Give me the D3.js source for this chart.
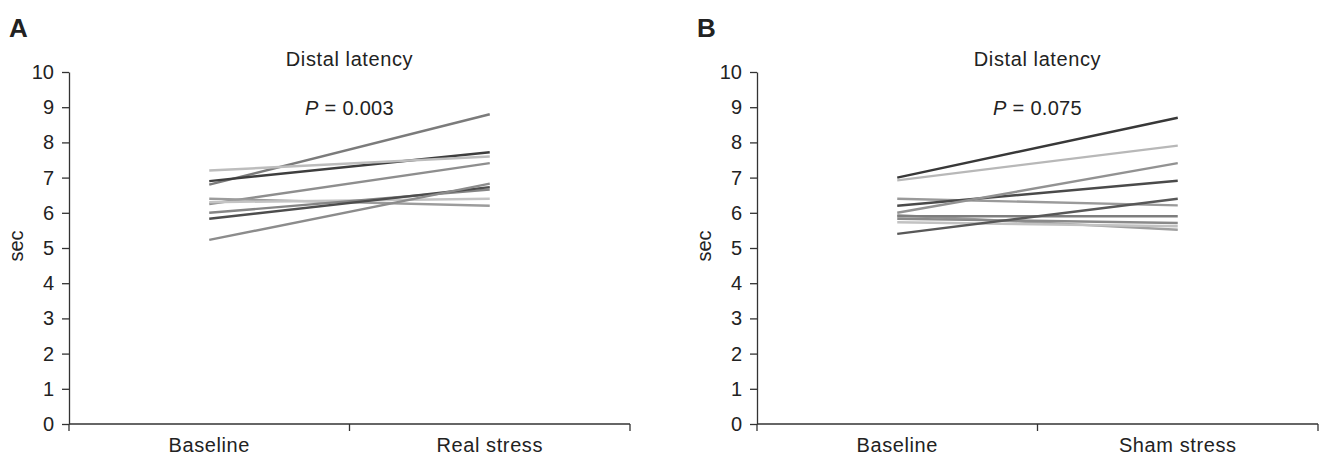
<!DOCTYPE html>
<html>
<head>
<meta charset="utf-8">
<script src="https://cdn.jsdelivr.net/npm/d3@7"></script>
<style>
  body { margin: 0; background: #fff; }
  svg { display: block; }
</style>
</head>
<body>
<div id="chart"></div>
<script>
const yTicks = [0, 1, 2, 3, 4, 5, 6, 7, 8, 9, 10];

const catsA = ['Baseline', 'Real stress'];
const catsB = ['Baseline', 'Sham stress'];

// each subject: [baseline, stress]
const realBase = [6.8, 6.9, 7.2, 6.25, 6.4, 6.3, 6.0, 5.83, 5.23];
const realStress = [8.8, 7.72, 7.6, 7.41, 6.2, 6.4, 6.66, 6.73, 6.83];
const realColors = ['#7b7b7b', '#3e3e3e', '#bdbdbd', '#8e8e8e', '#9c9c9c', '#c4c4c4', '#858585', '#4d4d4d', '#8c8c8c'];

const shamBase = [7.0, 6.92, 6.4, 6.2, 6.0, 5.93, 5.83, 5.73, 5.9, 5.4];
const shamStress = [8.7, 7.91, 6.21, 6.91, 7.41, 5.52, 5.71, 5.62, 5.9, 6.4];
const shamColors = ['#383838', '#b8b8b8', '#9a9a9a', '#4a4a4a', '#929292', '#a0a0a0', '#8a8a8a', '#c2c2c2', '#7e7e7e', '#585858'];

const titles = ['Distal latency', 'Distal latency'];
const pValues = ['0.003', '0.075'];
const letters = ['A', 'B'];

const W = 1320, H = 456;
const font = 'Liberation Sans, Arial, sans-serif';

const svg = d3.select('#chart').append('svg')
  .attr('width', W)
  .attr('height', H);

const yScale = d3.scaleLinear().domain([0, 10]).range([424, 72]);

function drawPanel(x0, x1, cats, base, stress, colors, title, p, letter) {
  let xScale = d3.scaleBand().domain(cats).range([x0, x1]);
  let g = svg.append('g');

  g.append('text')
    .attr('x', x0 - 60)
    .attr('y', 37)
    .attr('font-family', font)
    .attr('font-weight', 'bold')
    .attr('font-size', 26)
    .attr('fill', '#222')
    .text(letter);

  g.append('text')
    .attr('x', (x0 + x1) / 2)
    .attr('y', 66)
    .attr('text-anchor', 'middle')
    .attr('font-family', font)
    .attr('font-size', 20)
    .attr('letter-spacing', 0.6)
    .attr('fill', '#222')
    .text(title);

  let pt = g.append('text')
    .attr('x', (x0 + x1) / 2)
    .attr('y', 115)
    .attr('text-anchor', 'middle')
    .attr('font-family', font)
    .attr('font-size', 20)
    .attr('letter-spacing', 0.3)
    .attr('fill', '#222');
  pt.append('tspan').attr('font-style', 'italic').text('P');
  pt.append('tspan').text(' = ' + p);

  g.append('text')
    .attr('transform', 'translate(' + (x0 - 46) + ',' + 246 + ') rotate(-90)')
    .attr('text-anchor', 'middle')
    .attr('font-family', font)
    .attr('font-size', 20)
    .attr('fill', '#222')
    .text('sec');

  // subject lines
  base.forEach((b, i) => {
    let pts = [[cats[0], b], [cats[1], stress[i]]];
    g.append('path')
      .datum(pts)
      .attr('fill', 'none')
      .attr('stroke', colors[i])
      .attr('stroke-width', 2.4)
      .attr('d', d3.line()
        .x((d) => xScale(d[0]) + xScale.bandwidth() / 2)
        .y((d) => yScale(d[1])));
  });

  // y axis
  let yAxis = d3.axisLeft(yScale).tickValues(yTicks).tickSize(7).tickSizeOuter(0).tickPadding(8);
  let ya = g.append('g')
    .attr('transform', 'translate(' + x0 + ',0)')
    .call(yAxis);
  ya.selectAll('text').attr('font-family', font).attr('font-size', 20).attr('fill', '#222');
  ya.selectAll('line,path').attr('stroke', '#333').attr('stroke-width', 1.3);

  // x axis: ticks at band edges, labels at centres
  let xa = g.append('g').attr('transform', 'translate(0,424)');
  xa.append('line')
    .attr('x1', x0).attr('x2', x1)
    .attr('stroke', '#333').attr('stroke-width', 1.3);
  let edges = [x0].concat(cats.map((c) => xScale(c) + xScale.bandwidth()));
  xa.selectAll('.tk').data(edges).enter().append('line')
    .attr('x1', (d) => d).attr('x2', (d) => d)
    .attr('y1', 0).attr('y2', 7)
    .attr('stroke', '#333').attr('stroke-width', 1.3);
  xa.selectAll('.lb').data(cats).enter().append('text')
    .attr('x', (d) => xScale(d) + xScale.bandwidth() / 2)
    .attr('y', 28)
    .attr('text-anchor', 'middle')
    .attr('font-family', font)
    .attr('font-size', 20)
    .attr('letter-spacing', 0.6)
    .attr('fill', '#222')
    .text((d) => d);
}

drawPanel(69, 630, catsA, realBase, realStress, realColors, titles[0], pValues[0], letters[0]);
drawPanel(757, 1318, catsB, shamBase, shamStress, shamColors, titles[1], pValues[1], letters[1]);
</script>
</body>
</html>
